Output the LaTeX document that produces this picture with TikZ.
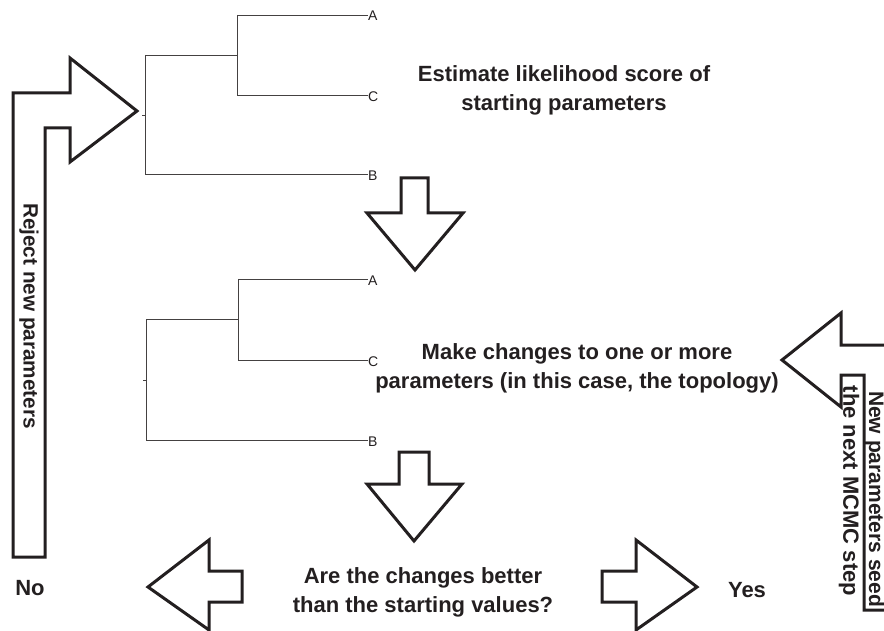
\documentclass[tikz,border=0pt]{standalone}
\usepackage{fontspec}
\setmainfont{Liberation Sans}
\definecolor{ink}{HTML}{231F20}
\begin{document}
\begin{tikzpicture}[x=1pt,y=-1pt,
  bigarrow/.style={draw=ink,line width=3pt,line join=miter,fill=white},
  openarrow/.style={draw=ink,line width=3pt,line join=miter},
  treeline/.style={draw=ink!85,line width=0.8pt},
  leaf/.style={font=\fontsize{14}{16}\selectfont,text=ink,anchor=west,inner sep=0pt},
  lbl/.style={font=\bfseries\fontsize{22}{29}\selectfont,text=ink,align=center,inner sep=0pt},
]
\useasboundingbox (0,0) rectangle (884,631);

% ---- big arrows ----
\draw[bigarrow] (13,557) -- (13,93) -- (70,93) -- (70,58) -- (137,111) -- (70,162) -- (70,128) -- (45,128) -- (45,557) -- cycle;
\draw[bigarrow] (401,178) -- (428,178) -- (428,213) -- (463,213) -- (415,270) -- (367,213) -- (401,213) -- cycle;
\draw[bigarrow] (399,452) -- (429,452) -- (429,484) -- (462,484) -- (414,541) -- (367,484) -- (399,484) -- cycle;
\draw[bigarrow] (148,587) -- (209,540) -- (209,571) -- (242,571) -- (242,602) -- (209,602) -- (209,630) -- cycle;
\draw[bigarrow] (602,571) -- (636,571) -- (636,540) -- (697,587) -- (636,630) -- (636,602) -- (602,602) -- cycle;
\draw[openarrow] (890,345) -- (841,345) -- (841,313) -- (782,360) -- (841,407) -- (841,375) -- (864,375) -- (864,610) -- (890,610);

% ---- tree 1 ----
\coordinate (r1t) at (145,55);
\coordinate (r1b) at (145,174);
\coordinate (r1m) at (145,115);
\coordinate (r1k) at (142,115);
\coordinate (i1t) at (237,15);
\coordinate (i1b) at (237,95);
\coordinate (i1m) at (237,55);
\node[leaf] (a1) at (368,16) {A};
\node[leaf] (c1) at (368,97) {C};
\node[leaf] (b1) at (368,176) {B};
\draw[treeline] (r1t) -- (r1b);
\draw[treeline] (r1k) -- (r1m);
\draw[treeline] (r1t) -- (i1m);
\draw[treeline] (i1t) -- (i1b);
\draw[treeline] (i1t) -- (a1.west |- i1t);
\draw[treeline] (i1b) -- (c1.west |- i1b);
\draw[treeline] (r1b) -- (b1.west |- r1b);

% ---- tree 2 ----
\coordinate (r2t) at (146,319);
\coordinate (r2b) at (146,440);
\coordinate (r2m) at (146,380);
\coordinate (r2k) at (143,380);
\coordinate (i2t) at (238,279);
\coordinate (i2b) at (238,360);
\coordinate (i2m) at (238,319);
\node[leaf] (a2) at (368,281) {A};
\node[leaf] (c2) at (368,362) {C};
\node[leaf] (b2) at (368,442) {B};
\draw[treeline] (r2t) -- (r2b);
\draw[treeline] (r2k) -- (r2m);
\draw[treeline] (r2t) -- (i2m);
\draw[treeline] (i2t) -- (i2b);
\draw[treeline] (i2t) -- (a2.west |- i2t);
\draw[treeline] (i2b) -- (c2.west |- i2b);
\draw[treeline] (r2b) -- (b2.west |- r2b);

% ---- texts ----
\node[lbl] (t1) at (564,90) {Estimate likelihood score of\\starting parameters};
\node[lbl] (t2) at (577,368) {Make changes to one or more\\parameters (in this case, the topology)};
\node[lbl] (t3) at (423,592) {Are the changes better\\than the starting values?};
\node[lbl] (no) at (30,588) {No};
\node[lbl] (yes) at (747,590) {Yes};
\node[lbl,rotate=-90,font=\bfseries\fontsize{20.7}{24}\selectfont] (rej) at (29,316) {Reject new parameters};
\node[lbl,rotate=-90,font=\bfseries\fontsize{21}{24}\selectfont] (nps) at (874.5,499) {New parameters seed};
\node[lbl,rotate=-90] (nms) at (849,491) {the next MCMC step};
\end{tikzpicture}
\end{document}
